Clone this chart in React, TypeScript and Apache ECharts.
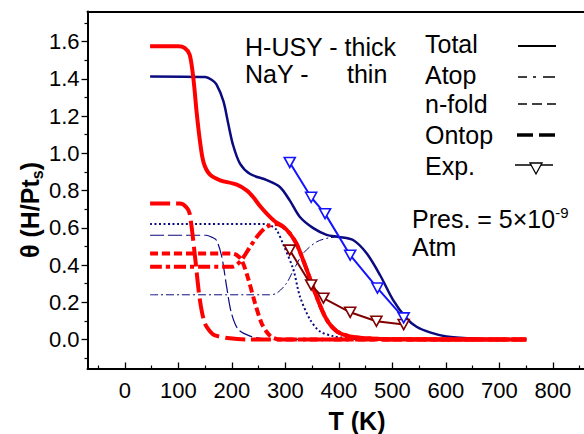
import React, { useEffect, useRef } from "react";
import * as echarts from "echarts";

const FONT = "'Liberation Sans', Arial, Helvetica, sans-serif";

const X_TICKS = [0, 100, 200, 300, 400, 500, 600, 700, 800];
const X_MINOR = [-50, 50, 150, 250, 350, 450, 550, 650, 750, 850];
const Y_TICKS = [0, 0.2, 0.4, 0.6, 0.8, 1.0, 1.2, 1.4, 1.6];
const Y_MINOR = [-0.1, 0.1, 0.3, 0.5, 0.7, 0.9, 1.1, 1.3, 1.5, 1.7];

// H-USY (thick, red)
const HUSY_TOTAL = [[47,1.575],[100,1.575],[112,1.565],[121,1.53],[128,1.4],[134,1.22],[140,1.07],[147,0.95],[159,0.885],[178,0.855],[209,0.832],[228,0.8],[240,0.764],[252,0.718],[265,0.676],[280,0.635],[295,0.608],[308,0.57],[321,0.512],[340,0.373],[358,0.231],[377,0.107],[396,0.044],[421,0.016],[452,0.006],[500,0.001],[750,0]];
const HUSY_ATOP = [[47,0.391],[202,0.391],[210,0.405],[218,0.427],[234,0.498],[249,0.56],[265,0.605],[283,0.62],[295,0.606],[308,0.57],[321,0.512],[340,0.373],[358,0.231],[377,0.107],[396,0.044],[421,0.016],[452,0.006],[500,0.001],[750,0]];
const HUSY_NFOLD = [[47,0.462],[200,0.462],[208,0.455],[218,0.427],[230,0.33],[243,0.196],[255,0.09],[265,0.04],[275,0.012],[290,0],[750,0]];
const HUSY_ONTOP = [[47,0.73],[103,0.73],[115,0.71],[121,0.676],[131,0.444],[140,0.213],[149,0.089],[160,0.04],[168,0.022],[196,0.006],[230,0],[750,0]];
const HUSY_EXP = [[308,0.48],[348,0.293],[371,0.222],[421,0.146],[470,0.098],[521,0.08]];

// NaY (thin, navy)
const NAY_TOTAL = [[47,1.413],[150,1.41],[162,1.395],[171,1.37],[184,1.28],[193,1.16],[202,1.045],[215,0.945],[234,0.889],[265,0.856],[290,0.818],[308,0.747],[327,0.658],[352,0.598],[377,0.562],[399,0.551],[427,0.533],[452,0.462],[477,0.345],[501,0.213],[526,0.115],[545,0.068],[570,0.038],[601,0.016],[650,0.005],[700,0.001],[750,0]];
const NAY_ATOP = [[47,0.24],[270,0.24],[284,0.249],[302,0.302],[315,0.373],[333,0.462],[358,0.524],[380,0.545],[399,0.55],[427,0.533],[452,0.462],[477,0.345],[501,0.213],[526,0.115],[545,0.068],[570,0.038],[601,0.016],[650,0.005],[700,0.001],[750,0]];
const NAY_NFOLD = [[47,0.62],[262,0.62],[272,0.612],[283,0.59],[296,0.51],[315,0.373],[327,0.231],[346,0.107],[364,0.044],[389,0.018],[420,0.005],[460,0],[750,0]];
const NAY_ONTOP = [[47,0.56],[152,0.56],[162,0.55],[171,0.533],[181,0.444],[190,0.284],[199,0.142],[212,0.053],[234,0.018],[258,0.005],[290,0],[750,0]];
const NAY_EXP = [[308,0.951],[348,0.764],[374,0.676],[421,0.453],[472,0.276],[521,0.116]];

const RED = "#ff0000";
const NAVY = "#0b0b80";
const BLUE = "#1414ff";
const DARKRED = "#800000";

const X_MIN = -70;
const X_MAX = 858;
const Y_MIN = -0.156;
const Y_MAX = 1.762;

function curve(name: string, data: number[][], color: string, width: number, type: any, z: number) {
  return {
    name,
    type: "line",
    data,
    symbol: "none",
    showSymbol: false,
    smooth: 0.3,
    lineStyle: { color, width, type, cap: "butt", join: "round" },
    z,
    silent: true,
  };
}

function expSeries(name: string, data: number[][], color: string, z: number) {
  return {
    name,
    type: "line",
    data,
    symbol: "triangle",
    symbolRotate: 180,
    symbolSize: [11, 10],
    showSymbol: true,
    smooth: false,
    lineStyle: { color, width: 2 },
    itemStyle: { color: "#ffffff", borderColor: color, borderWidth: 1.6 },
    z,
    silent: true,
  };
}

function txt(text: string, x: number, y: number, fontSize = 25, extra: any = {}) {
  return {
    type: "text",
    x,
    y,
    style: {
      text,
      fontSize,
      fontFamily: FONT,
      fill: "#000",
      align: "left",
      verticalAlign: "middle",
      textAlign: "left",
      textVerticalAlign: "middle",
      ...extra,
    },
    z: 100,
  };
}

function seg(x1: number, y1: number, x2: number, y2: number, w: number) {
  return {
    type: "line",
    shape: { x1, y1, x2, y2 },
    style: { stroke: "#000", lineWidth: w },
    z: 100,
  };
}

export default function App() {
  const ref = useRef<HTMLDivElement>(null);
  useEffect(() => {
    const chart = echarts.init(ref.current!, null, { renderer: "svg" });
    const axisCommon = { lineStyle: { color: "#000", width: 2 } };
    const option: any = {
      animation: false,
      backgroundColor: "#ffffff",
      textStyle: { fontFamily: FONT },
      grid: { left: 87.5, top: 11.5, right: 0, bottom: 65.5, containLabel: false, outerBoundsMode: "none" },
      xAxis: [
        {
          type: "value", min: X_MIN, max: X_MAX, position: "bottom",
          axisLine: { show: true, onZero: false, ...axisCommon },
          axisTick: { show: true, inside: true, length: 6, customValues: X_TICKS, lineStyle: { color: "#000", width: 1.3 } },
          axisLabel: { show: true, customValues: X_TICKS, margin: 11, fontSize: 22, color: "#000", fontFamily: FONT, formatter: (v: number) => String(v) },
          splitLine: { show: false },
        },
        {
          type: "value", min: X_MIN, max: X_MAX, position: "bottom",
          axisLine: { show: false, onZero: false },
          axisTick: { show: true, inside: true, length: 3, customValues: X_MINOR, lineStyle: { color: "#000", width: 1.2 } },
          axisLabel: { show: false },
          splitLine: { show: false },
        },
        {
          type: "value", min: X_MIN, max: X_MAX, position: "top",
          axisLine: { show: true, onZero: false, ...axisCommon },
          axisTick: { show: false },
          axisLabel: { show: false },
          splitLine: { show: false },
        },
      ],
      yAxis: [
        {
          type: "value", min: Y_MIN, max: Y_MAX, position: "left",
          axisLine: { show: true, onZero: false, ...axisCommon },
          axisTick: { show: true, inside: false, length: 6, customValues: Y_TICKS, lineStyle: { color: "#000", width: 1.3 } },
          axisLabel: { show: true, customValues: Y_TICKS, margin: 8, fontSize: 22, color: "#000", fontFamily: FONT, formatter: (v: number) => v.toFixed(1) },
          splitLine: { show: false },
        },
        {
          type: "value", min: Y_MIN, max: Y_MAX, position: "left",
          axisLine: { show: false, onZero: false },
          axisTick: { show: true, inside: false, length: 3, customValues: Y_MINOR, lineStyle: { color: "#000", width: 1.2 } },
          axisLabel: { show: false },
          splitLine: { show: false },
        },
      ],
      series: [
        curve("NaY Atop", NAY_ATOP, NAVY, 1, [8, 3, 2, 3], 2),
        curve("NaY n-fold", NAY_NFOLD, NAVY, 2, [2, 2.5], 2),
        curve("NaY Ontop", NAY_ONTOP, NAVY, 1.2, [14, 4], 2),
        curve("NaY Total", NAY_TOTAL, NAVY, 2.5, "solid", 3),
        curve("H-USY Ontop", HUSY_ONTOP, RED, 4, [20, 6], 4),
        curve("H-USY n-fold", HUSY_NFOLD, RED, 4, [8, 4], 4),
        curve("H-USY Atop", HUSY_ATOP, RED, 4, [12, 4, 4, 4], 4),
        curve("H-USY Total", HUSY_TOTAL, RED, 4, "solid", 5),
        expSeries("H-USY Exp.", HUSY_EXP, DARKRED, 6),
        expSeries("NaY Exp.", NAY_EXP, BLUE, 7),
      ],
      graphic: [
        txt("H-USY - thick", 245, 47),
        txt("NaY -", 245, 74),
        txt("thin", 347, 74),
        txt("Total", 425, 44),
        txt("Atop", 425, 75),
        txt("n-fold", 425, 104),
        txt("Ontop", 425, 135),
        txt("Exp.", 425, 166),
        seg(518, 46, 556, 46, 2),
        seg(518, 77, 527, 77, 1.5),
        seg(533, 77, 536, 77, 1.5),
        seg(543, 77, 555, 77, 1.5),
        seg(518, 104, 527, 104, 1.5),
        seg(532, 104, 542, 104, 1.5),
        seg(547, 104, 556, 104, 1.5),
        seg(517, 135, 533, 135, 3.5),
        seg(539, 135, 555, 135, 3.5),
        seg(515, 165, 553, 165, 1.5),
        {
          type: "polygon",
          shape: { points: [[530, 163], [542, 163], [536, 174]] },
          style: { fill: "#fff", stroke: "#000", lineWidth: 1.3 },
          z: 101,
        },
        {
          type: "text",
          x: 412,
          y: 219,
          style: {
            text: "{a|Pres. = 5×10}{b|-9}",
            align: "left",
            verticalAlign: "middle",
            rich: {
              a: { fontSize: 25, fontFamily: FONT, fill: "#000", color: "#000", lineHeight: 28 },
              b: { fontSize: 15, fontFamily: FONT, fill: "#000", color: "#000", lineHeight: 14, verticalAlign: "top" },
            },
          },
          z: 100,
        },
        txt("Atm", 412, 247),
        {
          type: "text",
          x: 357,
          y: 421,
          style: {
            text: "T (K)",
            fontSize: 25,
            fontWeight: "bold",
            fontFamily: FONT,
            fill: "#000",
            align: "center",
            verticalAlign: "middle",
          },
          z: 100,
        },
        {
          type: "text",
          x: 30,
          y: 210,
          rotation: Math.PI / 2,
          style: {
            text: "{m|θ (H/Pt}{s|s}{m|)}",
            align: "center",
            verticalAlign: "middle",
            rich: {
              m: { fontSize: 25, fontWeight: "bold", fontFamily: FONT, fill: "#000", color: "#000", lineHeight: 30 },
              s: { fontSize: 16, fontWeight: "bold", fontFamily: FONT, fill: "#000", color: "#000", lineHeight: 16, verticalAlign: "bottom" },
            },
          },
          z: 100,
        },
      ],
    };
    chart.setOption(option);
    return () => chart.dispose();
  }, []);
  return (
    <div
      ref={ref}
      style={{ position: "fixed", left: 0, top: 0, width: 584, height: 434, background: "#fff" }}
    />
  );
}
